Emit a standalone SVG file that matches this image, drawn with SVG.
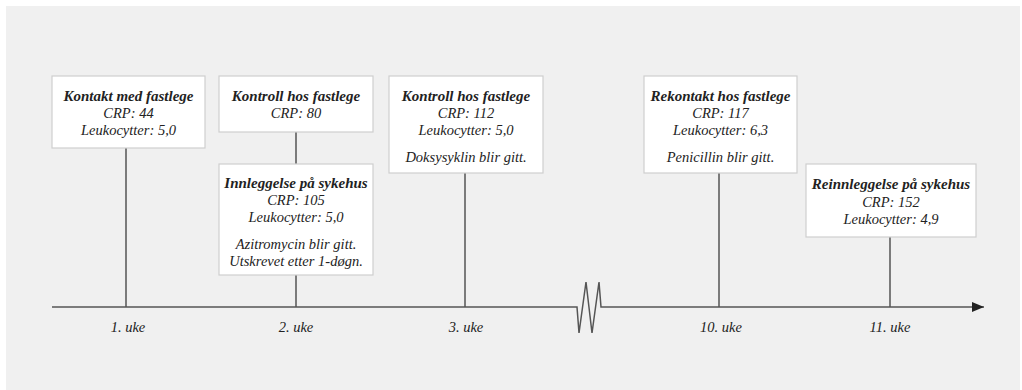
<svg xmlns="http://www.w3.org/2000/svg" width="1022" height="390" viewBox="0 0 1022 390">
<style>
.panel{fill:#f0f0f0}
.box{fill:#ffffff;stroke:#cfcfcf;stroke-width:1.2}
.ln{stroke:#555;stroke-width:1.5;fill:none}
text{font-family:"Liberation Serif","DejaVu Serif",serif;font-style:italic;font-size:14.5px;fill:#222;text-anchor:middle}
.t{font-weight:bold;font-size:15px}
</style>
<defs>
<marker id="arr" viewBox="0 0 12 10" refX="12" refY="5" markerWidth="12" markerHeight="10" markerUnits="userSpaceOnUse" orient="auto">
<path d="M0,0 L12,5 L0,10 Z" fill="#222"/>
</marker>
</defs>
<rect class="panel" x="6" y="6" width="1014" height="384"/>
<g id="connectors">
<path class="ln" d="M52,307 H577 L579,333 L586,282 L592,333 L599,282 L601,307 H984" marker-end="url(#arr)"/>
<line class="ln" x1="126" y1="148" x2="126" y2="307"/>
<line class="ln" x1="296" y1="132" x2="296" y2="164"/>
<line class="ln" x1="296" y1="275" x2="296" y2="307"/>
<line class="ln" x1="465" y1="173" x2="465" y2="307"/>
<line class="ln" x1="719" y1="173" x2="719" y2="307"/>
<line class="ln" x1="890" y1="237" x2="890" y2="307"/>
</g>
<g id="labels">
<text x="128" y="332">1. uke</text>
<text x="296" y="332">2. uke</text>
<text x="466" y="332">3. uke</text>
<text x="721" y="332">10. uke</text>
<text x="890" y="332">11. uke</text>
</g>
<g id="node1">
<rect class="box" x="52" y="76" width="153" height="72"/>
<text class="t" x="128.5" y="101">Kontakt med fastlege</text>
<text x="128.5" y="118">CRP: 44</text>
<text x="128.5" y="135">Leukocytter: 5,0</text>
</g>
<g id="node2">
<rect class="box" x="219" y="76" width="154" height="56"/>
<text class="t" x="296" y="101">Kontroll hos fastlege</text>
<text x="296" y="118">CRP: 80</text>
</g>
<g id="node3">
<rect class="box" x="219" y="164" width="154" height="111"/>
<text class="t" x="296" y="188">Innleggelse på sykehus</text>
<text x="296" y="205">CRP: 105</text>
<text x="296" y="222">Leukocytter: 5,0</text>
<text x="296" y="249">Azitromycin blir gitt.</text>
<text x="296" y="266">Utskrevet etter 1-døgn.</text>
</g>
<g id="node4">
<rect class="box" x="389" y="76" width="154" height="97"/>
<text class="t" x="466" y="101">Kontroll hos fastlege</text>
<text x="466" y="118">CRP: 112</text>
<text x="466" y="135">Leukocytter: 5,0</text>
<text x="466" y="162">Doksysyklin blir gitt.</text>
</g>
<g id="node5">
<rect class="box" x="644" y="76" width="153" height="97"/>
<text class="t" x="720.5" y="101">Rekontakt hos fastlege</text>
<text x="720.5" y="118">CRP: 117</text>
<text x="720.5" y="135">Leukocytter: 6,3</text>
<text x="720.5" y="162">Penicillin blir gitt.</text>
</g>
<g id="node6">
<rect class="box" x="806" y="164" width="170" height="73"/>
<text class="t" x="891" y="189">Reinnleggelse på sykehus</text>
<text x="891" y="207">CRP: 152</text>
<text x="891" y="224">Leukocytter: 4,9</text>
</g>
</svg>
